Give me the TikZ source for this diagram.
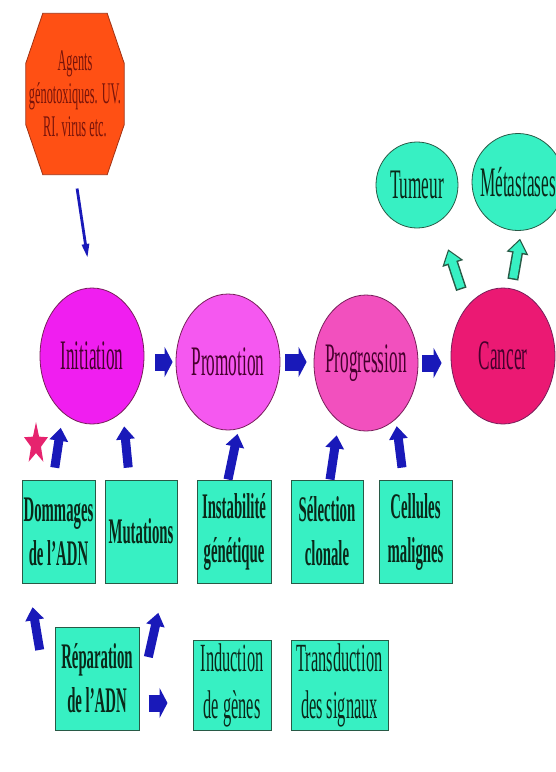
\documentclass[tikz,border=0pt]{standalone}
\usepackage{fontspec}
\setmainfont{Liberation Serif}[FakeStretch=0.41]
\usetikzlibrary{arrows.meta,shapes.geometric,backgrounds}

\definecolor{agfill}{RGB}{255,80,20}
\definecolor{agbrd}{RGB}{160,50,20}
\definecolor{agtxt}{RGB}{120,20,10}
\definecolor{inifill}{RGB}{240,30,240}
\definecolor{profill}{RGB}{245,88,240}
\definecolor{prgfill}{RGB}{242,80,190}
\definecolor{cancfill}{RGB}{235,25,115}
\definecolor{stagebrd}{RGB}{120,30,90}
\definecolor{stagetxt}{RGB}{70,0,45}
\definecolor{aqua}{RGB}{55,240,195}
\definecolor{aquabrd}{RGB}{40,90,70}
\definecolor{boxtxt}{RGB}{10,40,25}
\definecolor{blu}{RGB}{25,25,185}
\definecolor{starfill}{RGB}{230,35,110}

\newcommand{\ctext}[1]{\makebox[0pt]{#1}}

\begin{document}
\begin{tikzpicture}[x=1pt,y=-1pt,
  stage node/.style={ellipse,draw=stagebrd,line width=.8pt,inner sep=0pt,minimum width=104pt,minimum height=136pt,text=stagetxt,font=\fontsize{42}{44}\selectfont},
  out node/.style={ellipse,draw=aquabrd,fill=aqua,line width=.8pt,inner sep=0pt,text=boxtxt,font=\fontsize{42}{44}\selectfont},
  box node/.style={rectangle,draw=aquabrd,fill=aqua,line width=1pt,inner sep=1pt,align=center,text=boxtxt,font=\bfseries\fontsize{36}{44}\selectfont},
  flow/.style={draw=blu,line width=17pt,-{Triangle[width=30pt,length=8pt]}},
  push/.style={draw=blu,line width=9pt,-{Triangle[width=18pt,length=13pt]}},
  hit/.style={draw=blu,line width=2.8pt,-{Triangle[width=7pt,length=14pt]}},
  grow out/.style={draw=aquabrd,line width=11pt,-{Triangle[width=21pt,length=15pt]}},
  grow in/.style={draw=aqua,line width=8pt,-{Triangle[width=16pt,length=11.5pt]}}]

  \useasboundingbox (0,0) rectangle (556,772);

  % agents
  \node[minimum width=98pt,minimum height=161pt,inner sep=0pt,align=center,text=agtxt,font=\fontsize{30}{33}\selectfont] (01) at (75,94) {Agents\\génotoxiques. UV.\\RI. virus etc.};

  % stages
  \node[stage node,fill=inifill] (10) at (92,356) {\ctext{Initiation}};
  \node[stage node,fill=profill] (11) at (228,362) {\ctext{Promotion}};
  \node[stage node,fill=prgfill] (12) at (366,363) {\ctext{Progression}};
  \node[stage node,fill=cancfill] (13) at (503,356) {\ctext{Cancer}};
  \node[out node,minimum width=82pt,minimum height=86pt] (02) at (417,185) {\ctext{Tumeur}};
  \node[out node,minimum width=92pt,minimum height=97pt] (03) at (518,182) {\ctext{Métastases}};

  \begin{scope}[shift={(36,444)},yscale=1.75]
    \node[star,star points=5,star point ratio=2.4,fill=starfill,inner sep=0pt,minimum size=25pt,transform shape] (00) at (0,0) {};
  \end{scope}

  % causes
  \node[box node,minimum width=73pt,minimum height=103pt] (21) at (58.5,531.5) {Dommages\\de l’ADN};
  \node[box node,minimum width=72pt,minimum height=103pt] (22) at (141,531.5) {Mutations};
  \node[box node,minimum width=74pt,minimum height=103pt] (23) at (234,531.5) {Instabilité\\génétique};
  \node[box node,minimum width=72pt,minimum height=103pt] (24) at (327,531.5) {Sélection\\clonale};
  \node[box node,minimum width=73pt,minimum height=103pt] (25) at (415.5,531.5) {Cellules\\malignes};

  \node[box node,minimum width=84pt,minimum height=103pt] (31) at (97,678.5) {Réparation\\de l’ADN};
  \node[box node,minimum width=78pt,minimum height=90pt,font=\fontsize{40}{47}\selectfont] (32) at (232,685) {Induction\\de gènes};
  \node[box node,minimum width=97pt,minimum height=90pt,font=\fontsize{40}{47}\selectfont] (33) at (339.5,685) {Transduction\\des signaux};

  \begin{scope}[on background layer]
    \fill[white] (0,0) rectangle (556,772);
    \filldraw[fill=agfill,draw=agbrd,line width=.8pt]
      ([xshift=17pt]01.north west) -- ([xshift=-17pt]01.north east)
      -- ([yshift=-50pt]01.north east) -- ([yshift=50pt]01.south east)
      -- ([xshift=-17pt]01.south east) -- ([xshift=17pt]01.south west)
      -- ([yshift=50pt]01.south west) -- ([yshift=-50pt]01.north west) -- cycle;
  \end{scope}

\begin{scope}
  \draw[hit,shorten <=14pt,shorten >=30pt] (01.south) to (10.north);
  \draw[flow,shorten <=11pt,shorten >=3pt] (10.east |- 11.west) to (11.west);
  \draw[flow,shorten <=5pt,shorten >=7pt] (11.east) to (11.east -| 12.west);
  \draw[flow,shorten <=4pt,shorten >=9pt] (12.east) to (12.east -| 13.west);

  \draw[push,shorten <=12pt,shorten >=15pt] ([xshift=-5.5pt]21.north) to (10.243);
  \draw[push,shorten <=12pt,shorten >=15pt] ([xshift=-11.6pt]22.north) to (10.299);
  \draw[push,shorten >=5pt] ([xshift=-6pt]23.north) to (11.279);
  \draw[push,shorten >=14pt] ([xshift=3pt]24.north) to (12.245);
  \draw[push,shorten <=12pt,shorten >=7pt] ([xshift=-12pt]25.north) to (12.298);

  \draw[push,shorten <=29pt,shorten >=24pt] ([xshift=-10pt]31.west) to ([xshift=7pt]21.south west);
  \draw[push,shorten <=22pt,shorten >=30pt] ([xshift=4pt]31.east) to ([xshift=-12.6pt]22.south east);
  \draw[flow,shorten <=9pt,shorten >=25pt] ([yshift=-24.5pt]31.east) to ([yshift=-24.5pt]31.east -| 32.west);

  \draw[grow out,shorten <=18pt,shorten >=29pt] (13.126) to (02.301);
  \draw[grow in,shorten <=19.5pt,shorten >=31pt] (13.126) to (02.301);
  \draw[grow out,shorten <=9pt,shorten >=8pt] (13.83) to (03.274);
  \draw[grow in,shorten <=10.5pt,shorten >=10pt] (13.83) to (03.274);
\end{scope}
\end{tikzpicture}
\end{document}
